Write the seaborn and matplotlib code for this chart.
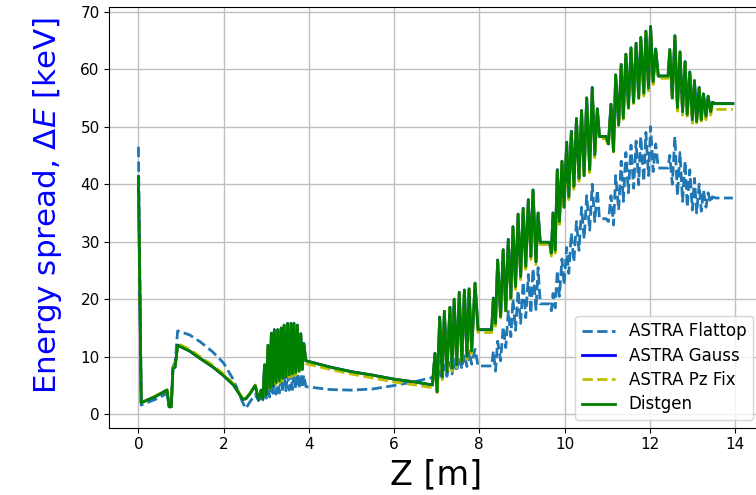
import numpy as np
import pandas as pd
import matplotlib
matplotlib.use("Agg")
import matplotlib.pyplot as plt
import seaborn as sns

# Longitudinal positions along the beamline [m]
z_pos = [
    # gun and first drift
    0.00, 0.065, 0.40, 0.67, 0.72, 0.77, 0.81, 0.86, 0.92, 1.20, 1.45, 1.75, 2.00,
    2.23, 2.45, 2.52, 2.62, 2.74, 2.82, 2.88, 2.92,
    # buncher cavity
    2.96, 3.00, 3.04, 3.08, 3.12, 3.155, 3.19, 3.23, 3.27, 3.31, 3.35, 3.385, 3.42,
    3.46, 3.50, 3.54, 3.58, 3.615, 3.65, 3.69, 3.73, 3.77, 3.81, 3.845, 3.88, 3.93,
    # long drift
    4.5, 5.0, 5.5, 6.0, 6.5, 6.90,
    # linac section 1
    6.96, 7.01, 7.07, 7.13, 7.18, 7.24, 7.31, 7.36, 7.41, 7.47, 7.53, 7.59, 7.65,
    7.71, 7.76, 7.82, 7.90, 7.97, 8.29,
    # linac section 2
    8.33, 8.38, 8.43, 8.50, 8.56, 8.62, 8.68, 8.74, 8.79, 8.85, 8.91, 8.97, 9.03,
    9.09, 9.15, 9.21, 9.26, 9.33, 9.38, 9.43, 9.65,
    # linac section 3
    9.69, 9.73, 9.78, 9.83, 9.88, 9.94, 9.99, 10.05, 10.10, 10.16, 10.22, 10.28,
    10.34, 10.40, 10.46, 10.52, 10.59, 10.65, 10.71, 10.77, 10.82, 10.97,
    # linac section 4
    11.03, 11.09, 11.15, 11.20, 11.27, 11.33, 11.38, 11.44, 11.50, 11.56, 11.62,
    11.68, 11.74, 11.79, 11.86, 11.91, 11.97, 12.02, 12.08, 12.14, 12.20, 12.43,
    # linac section 5 and exit
    12.47, 12.53, 12.59, 12.65, 12.71, 12.77, 12.83, 12.88, 12.94, 13.00, 13.05,
    13.10, 13.16, 13.21, 13.26, 13.32, 13.37, 13.43, 13.47, 13.55, 13.95,
]

# Energy spread [keV] for each simulation
astra_flattop = [
    46.5, 1.6, 2.6, 3.6, 1.5, 1.5, 8.3, 9.0, 14.5, 13.8, 12.6, 10.8, 8.9,
    6.0, 2.0, 1.0, 2.2, 3.4, 2.4, 3.2, 2.5,
    4.5, 2.8, 5.5, 3.0, 6.0, 3.2, 6.3, 3.5, 6.5, 3.7, 6.7, 3.9, 6.9,
    4.1, 7.0, 4.2, 7.1, 4.3, 7.2, 4.4, 7.2, 4.5, 7.0, 4.6, 6.8, 4.8,
    4.3, 4.2, 4.4, 5.0, 5.7, 6.4,
    6.5, 5.5, 8.0, 6.2, 8.6, 6.6, 9.0, 7.0, 9.5, 7.4, 10.0, 7.9, 10.5,
    8.3, 11.0, 8.7, 11.3, 8.4, 8.4,
    11.0, 7.5, 12.7, 9.3, 15.2, 11.6, 17.9, 13.5, 20.0, 14.6, 21.5, 15.8, 23.0,
    16.8, 24.3, 17.5, 25.3, 18.2, 25.5, 19.2, 19.2,
    18.0, 21.0, 18.5, 25.0, 20.5, 27.0, 22.5, 29.0, 24.5, 31.5, 26.5, 33.5,
    28.5, 36.0, 30.5, 38.0, 32.0, 40.0, 33.5, 39.0, 34.0, 34.0,
    33.5, 38.0, 32.9, 41.5, 35.5, 44.0, 37.0, 45.5, 38.5, 46.8, 39.3,
    47.5, 39.9, 48.3, 40.5, 49.0, 41.5, 50.0, 42.2, 47.0, 42.8, 42.8,
    45.0, 40.0, 48.3, 38.0, 45.5, 37.0, 44.0, 36.0, 42.5, 35.5, 41.0,
    35.0, 40.0, 35.3, 39.0, 36.0, 38.5, 36.8, 37.8, 37.6, 37.6,
]

astra_gauss = [
    41.3, 2.0, 3.1, 4.2, 1.3, 1.3, 8.0, 8.2, 12.0, 11.0, 9.7, 8.2, 6.7,
    5.1, 2.6, 2.7, 3.6, 5.0, 2.5, 4.2, 2.8,
    8.6, 3.4, 12.0, 4.5, 14.1, 5.0, 14.7, 5.5, 14.7, 5.8, 15.0, 6.2, 15.5,
    6.5, 15.8, 6.8, 15.8, 7.0, 15.8, 7.2, 15.5, 7.5, 14.0, 7.8, 12.3, 9.3,
    8.2, 7.4, 6.8, 6.1, 5.6, 5.1,
    10.6, 3.9, 16.9, 6.5, 17.9, 7.4, 18.6, 8.0, 20.0, 8.6, 21.2, 9.2, 21.6,
    10.0, 21.8, 11.0, 22.8, 14.7, 14.7,
    20.2, 15.8, 26.8, 17.0, 28.6, 18.0, 30.4, 20.2, 32.6, 22.2, 34.8, 23.9, 35.8,
    25.7, 37.3, 27.4, 39.0, 26.5, 35.0, 29.9, 29.9,
    28.0, 35.0, 28.5, 42.5, 33.5, 44.0, 36.0, 47.3, 37.8, 49.2, 39.6, 51.4,
    41.0, 52.8, 41.5, 55.0, 42.5, 56.8, 45.1, 53.1, 48.3, 48.3,
    47.0, 53.9, 45.7, 59.0, 50.3, 60.8, 51.5, 62.6, 53.3, 63.7, 54.2,
    64.5, 55.0, 65.5, 55.8, 66.6, 56.7, 67.4, 57.8, 63.5, 58.8, 58.8,
    63.4, 55.0, 65.8, 53.3, 63.0, 52.6, 61.3, 52.1, 59.5, 51.2, 58.0,
    50.9, 56.8, 51.2, 55.7, 51.8, 55.3, 52.6, 54.2, 54.0, 54.0,
]

astra_pz_fix = [
    41.0, 2.0, 3.2, 4.3, 1.4, 1.4, 8.2, 8.4, 12.3, 11.3, 10.0, 8.5, 7.0,
    5.3, 2.7, 2.8, 3.7, 5.1, 2.6, 4.3, 2.9,
    8.4, 3.5, 11.8, 4.4, 13.9, 4.8, 14.5, 5.2, 14.5, 5.5, 14.8, 5.8, 15.3,
    6.1, 15.6, 6.4, 15.6, 6.6, 15.6, 6.8, 15.3, 7.1, 13.8, 7.4, 12.1, 8.8,
    7.8, 7.0, 6.3, 5.6, 5.1, 4.6,
    10.4, 3.5, 16.7, 6.0, 17.7, 6.9, 18.4, 7.5, 19.8, 8.1, 21.0, 8.7, 21.4,
    9.5, 21.6, 10.5, 22.6, 14.2, 14.2,
    20.0, 15.3, 26.6, 16.5, 28.4, 17.5, 30.2, 19.7, 32.4, 21.7, 34.6, 23.4, 35.6,
    25.2, 37.1, 26.9, 38.8, 26.0, 34.8, 29.5, 29.5,
    27.5, 34.8, 28.0, 42.3, 33.0, 43.8, 35.5, 47.1, 37.3, 49.0, 39.1, 51.2,
    40.5, 52.6, 41.0, 54.8, 42.0, 56.6, 44.6, 52.9, 47.9, 47.9,
    46.6, 53.7, 45.2, 58.8, 49.8, 60.6, 51.0, 62.4, 52.8, 63.5, 53.7,
    64.3, 54.5, 65.3, 55.3, 66.4, 56.2, 67.2, 57.3, 63.3, 58.4, 58.4,
    63.2, 54.4, 65.6, 52.7, 62.8, 52.0, 61.1, 51.5, 59.3, 50.6, 57.8,
    50.3, 56.6, 50.6, 55.5, 51.2, 55.1, 52.0, 53.4, 53.0, 53.0,
]

distgen = [
    41.3, 2.0, 3.1, 4.2, 1.3, 1.3, 8.0, 8.2, 12.0, 11.0, 9.7, 8.2, 6.7,
    5.1, 2.6, 2.7, 3.6, 5.0, 2.5, 4.2, 2.8,
    8.6, 3.4, 12.0, 4.5, 14.1, 5.0, 14.7, 5.5, 14.7, 5.8, 15.0, 6.2, 15.5,
    6.5, 15.8, 6.8, 15.8, 7.0, 15.8, 7.2, 15.5, 7.5, 14.0, 7.8, 12.3, 9.3,
    8.2, 7.4, 6.8, 6.1, 5.6, 5.1,
    10.6, 3.9, 16.9, 6.5, 17.9, 7.4, 18.6, 8.0, 20.0, 8.6, 21.2, 9.2, 21.6,
    10.0, 21.8, 11.0, 22.8, 14.7, 14.7,
    20.2, 15.8, 26.8, 17.0, 28.6, 18.0, 30.4, 20.2, 32.6, 22.2, 34.8, 23.9, 35.8,
    25.7, 37.3, 27.4, 39.0, 26.5, 35.0, 29.9, 29.9,
    28.0, 35.0, 28.5, 42.5, 33.5, 44.0, 36.0, 47.3, 37.8, 49.2, 39.6, 51.4,
    41.0, 52.8, 41.5, 55.0, 42.5, 56.8, 45.1, 53.1, 48.3, 48.3,
    47.0, 53.9, 45.7, 59.0, 50.3, 60.8, 51.5, 62.6, 53.3, 63.7, 54.2,
    64.5, 55.0, 65.5, 55.8, 66.6, 56.7, 67.4, 57.8, 63.5, 58.8, 58.8,
    63.4, 55.0, 65.8, 53.3, 63.0, 52.6, 61.3, 52.1, 59.5, 51.2, 58.0,
    50.9, 56.8, 51.2, 55.7, 51.8, 55.3, 52.6, 54.2, 54.0, 54.0,
]

series_names = ["ASTRA Flattop", "ASTRA Gauss", "ASTRA Pz Fix", "Distgen"]
series_values = [astra_flattop, astra_gauss, astra_pz_fix, distgen]
series_colors = ["#1f77b4", "#0000ff", "#bfbf00", "#008000"]
series_dashes = ["--", "-", "--", "-"]

x_ticks = [0, 2, 4, 6, 8, 10, 12, 14]
y_ticks = [0, 10, 20, 30, 40, 50, 60, 70]

plt.rcParams["font.family"] = ["DejaVu Sans"]

fig = plt.figure(figsize=(7.56, 4.95), dpi=100)
ax = fig.add_axes([0.1448, 0.136, 0.864, 0.849])

for name, vals, col, ls in zip(series_names, series_values, series_colors, series_dashes):
    df = pd.DataFrame({"z": z_pos, "dE": vals})
    sns.lineplot(data=df, x="z", y="dE", ax=ax, color=col, linestyle=ls,
                 linewidth=2.0, label=name, sort=False, estimator=None)

ax.set_xlim(-0.68, 14.65)
ax.set_ylim(-2.33, 70.73)
ax.set_xticks(x_ticks)
ax.set_yticks(y_ticks)
ax.tick_params(labelsize=11)
ax.grid(True, color="#c0c0c0", linewidth=1.0)
ax.set_axisbelow(True)
for s in ax.spines.values():
    s.set_color("black")

ax.set_xlabel("Z [m]", fontsize=24)
ax.set_ylabel(r"Energy spread, $\Delta E$ [keV]", fontsize=22.3, color="blue")
ax.yaxis.set_label_coords(-0.070, 0.528)

ax.legend(loc="lower right", bbox_to_anchor=(753 / 756, 75 / 495),
          bbox_transform=fig.transFigure, borderaxespad=0.0,
          fontsize=12, labelspacing=0.38, framealpha=0.8)

fig.savefig("out.png", dpi=100)
